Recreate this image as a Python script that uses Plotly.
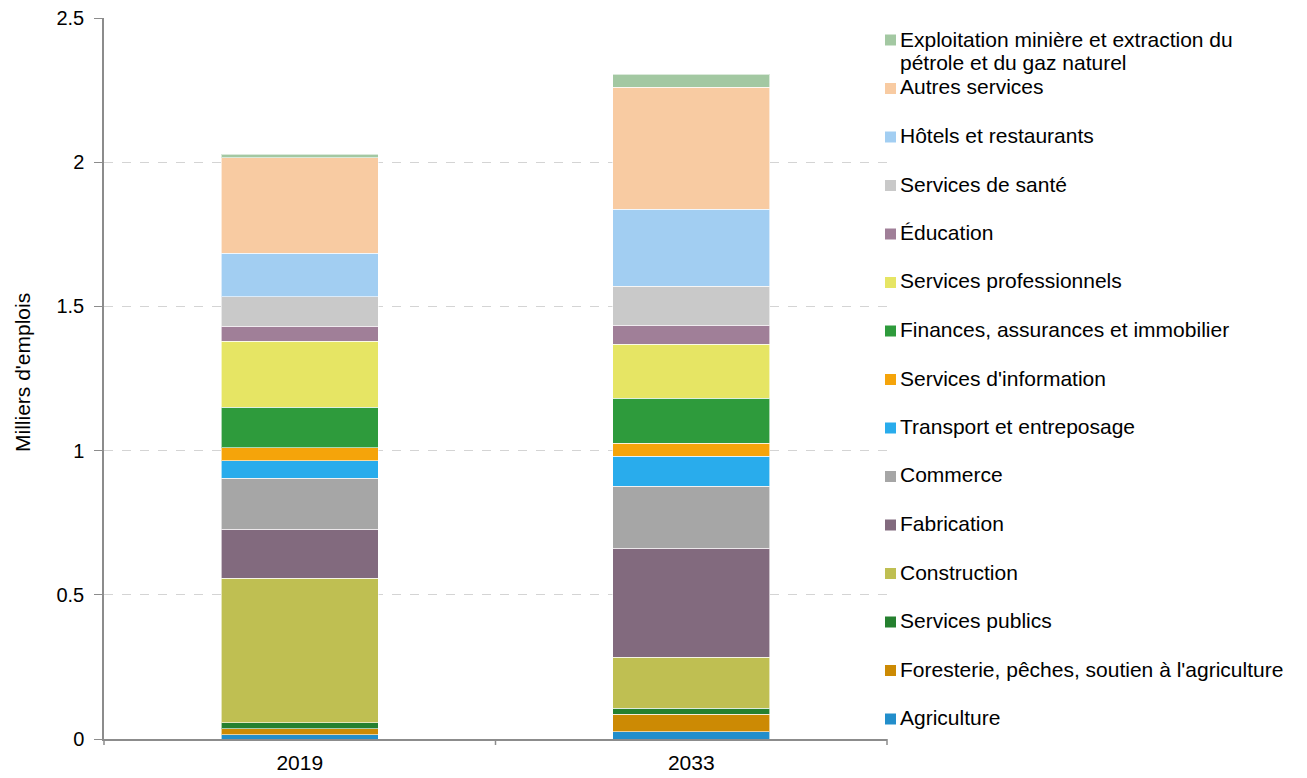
import plotly.graph_objects as go

# Years shown on the x axis
years = ["2019", "2033"]

# Sector names (bottom of the stack first)
sectors = [
    "Agriculture",
    "Foresterie, pêches, soutien à l'agriculture",
    "Services publics",
    "Construction",
    "Fabrication",
    "Commerce",
    "Transport et entreposage",
    "Services d'information",
    "Finances, assurances et immobilier",
    "Services professionnels",
    "Éducation",
    "Services de santé",
    "Hôtels et restaurants",
    "Autres services",
    "Exploitation minière et extraction du pétrole et du gaz naturel",
]

# Employment (thousands of jobs) per sector, one value per year
agriculture = [0.015, 0.026]
foresterie = [0.020, 0.060]
services_publics = [0.021, 0.020]
construction = [0.502, 0.177]
fabrication = [0.170, 0.378]
commerce = [0.177, 0.215]
transport = [0.059, 0.104]
information = [0.046, 0.045]
finances = [0.141, 0.156]
professionnels = [0.229, 0.188]
education = [0.052, 0.066]
sante = [0.101, 0.135]
hotels = [0.152, 0.267]
autres = [0.330, 0.423]
mines = [0.013, 0.045]

values = [agriculture, foresterie, services_publics, construction, fabrication,
          commerce, transport, information, finances, professionnels,
          education, sante, hotels, autres, mines]

colors = ["#228ECB", "#CC8A04", "#25802F", "#BFBF52", "#826A7E",
          "#A6A6A6", "#29ACEC", "#F5A40A", "#2E9B3C", "#E6E564",
          "#A07F98", "#C9C9C9", "#A2CEF2", "#F8CBA2", "#A3C8A2"]

W, H = 1307, 778
L, R, T, B = 104, 887, 18, 739  # plot area in pixels

fig = go.Figure()
for name, vals, col in zip(sectors, values, colors):
    fig.add_trace(go.Bar(
        x=years, y=vals, name=name,
        marker=dict(color=col, line=dict(color="rgba(255,255,255,0.6)", width=1)),
        showlegend=False,
    ))


def px_x(x):
    return (x - L) / (R - L)


def px_y(y):
    return (B - y) / (B - T)


font = "Liberation Sans, Arial, sans-serif"
legend_font = dict(family=font, size=21, color="#000000")
shapes = []
annotations = []

# Legend, drawn top entry first; the long mining label wraps onto two lines
n = len(sectors)
for i, idx in enumerate(range(n - 1, -1, -1)):
    if idx == n - 1:
        lines = ["Exploitation minière et extraction du", "pétrole et du gaz naturel"]
        line_y = [40, 63]
        sq_cy = 40
    else:
        cy = 87 + 48.5 * (i - 1)
        lines = [sectors[idx]]
        line_y = [cy]
        sq_cy = cy + 1.5
    shapes.append(dict(
        type="rect", xref="paper", yref="paper",
        x0=px_x(885), x1=px_x(896), y0=px_y(sq_cy + 5.5), y1=px_y(sq_cy - 5.5),
        fillcolor=colors[idx], line=dict(width=0),
    ))
    for txt, ly in zip(lines, line_y):
        annotations.append(dict(
            xref="paper", yref="paper", x=px_x(898), y=px_y(ly),
            xanchor="left", yanchor="middle", align="left", showarrow=False,
            text=txt, font=legend_font,
        ))

# Y axis title
annotations.append(dict(
    xref="paper", yref="paper", x=px_x(22), y=px_y(373),
    xanchor="center", yanchor="middle", textangle=-90, showarrow=False,
    text="Milliers d'emplois", font=dict(family=font, size=21, color="#000000"),
))

fig.update_layout(
    width=W, height=H,
    margin=dict(l=L, r=W - R, t=T, b=H - B, autoexpand=False),
    barmode="stack", bargap=0.6,
    plot_bgcolor="white", paper_bgcolor="white",
    font=dict(family=font, size=20, color="#000000"),
    shapes=shapes, annotations=annotations,
    xaxis=dict(
        automargin=False,
        showline=True, linecolor="#8C8C8C", linewidth=1.5,
        tickmode="array", tickvals=years, ticktext=years,
        ticks="", tickfont=dict(size=21), ticklabelstandoff=4,
    ),
    yaxis=dict(
        automargin=False,
        range=[0, 2.5], dtick=0.5, tickformat="~g",
        showline=True, linecolor="#8C8C8C", linewidth=1.5,
        ticks="outside", ticklen=8, tickcolor="#8C8C8C",
        showgrid=True, gridcolor="#D4D4D4", griddash="dash", gridwidth=1,
        tickfont=dict(size=20), ticklabelstandoff=6,
        zeroline=False,
    ),
)

# Category boundary ticks below the x axis
for xb in [L, (L + R) / 2, R]:
    fig.add_shape(type="line", xref="paper", yref="paper",
                  x0=px_x(xb), x1=px_x(xb), y0=0, y1=px_y(B + 6),
                  line=dict(color="#8C8C8C", width=1.5))

fig.write_html("out.html")
